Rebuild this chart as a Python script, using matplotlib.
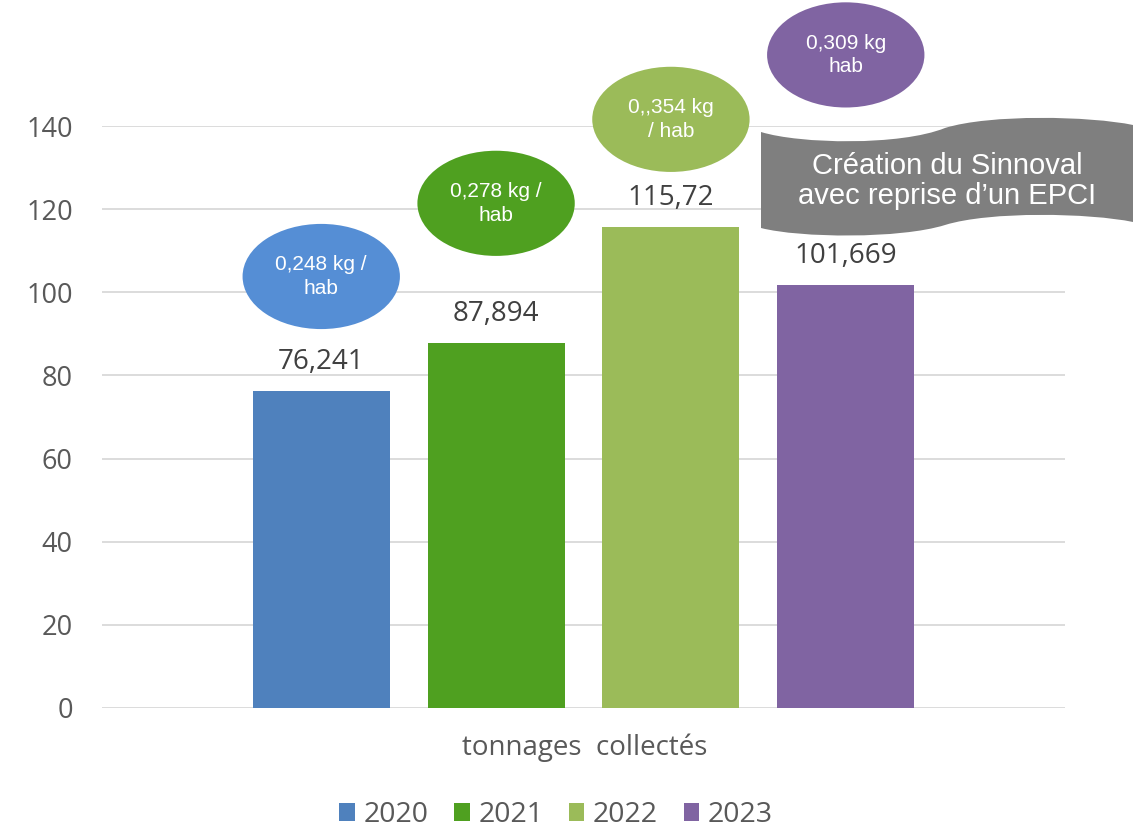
import matplotlib
matplotlib.use("Agg")
import matplotlib.pyplot as plt
from matplotlib.patches import Ellipse, Patch, PathPatch
from matplotlib.path import Path

years = ["2020", "2021", "2022", "2023"]
tonnages = [76.241, 87.894, 115.72, 101.669]
value_labels = ["76,241", "87,894", "115,72", "101,669"]
bar_colors = ["#4f81bd", "#4fa020", "#9bbb59", "#8064a2"]
bubble_texts = ["0,248 kg /\nhab", "0,278 kg /\nhab", "0,,354 kg\n/ hab", "0,309 kg\nhab"]
bubble_colors = ["#558ed5", "#4fa020", "#9bbb59", "#8064a2"]
bubble_y = [103.8, 121.4, 141.6, 157.1]
y_ticks = [0, 20, 40, 60, 80, 100, 120, 140]

W, H = 1133, 832
fig = plt.figure(figsize=(W / 100, H / 100), dpi=100)
ax = fig.add_axes([102 / W, (H - 708) / H, (1065 - 102) / W, (708 - 126) / H])

x = list(range(len(years)))
ax.bar(x, tonnages, width=0.783, color=bar_colors, zorder=2)
ax.set_xlim(-1.254, 4.254)
ax.set_ylim(0, 140)
ax.set_yticks(y_ticks)
ax.set_xticks([])
ax.yaxis.grid(True, color="#d9d9d9", linewidth=1.3, zorder=0)
ax.set_axisbelow(True)
for s in ax.spines.values():
    s.set_visible(False)
ax.tick_params(axis="y", length=0, pad=21, labelsize=19.5, labelcolor="#595959")
for lab in ax.get_yticklabels():
    lab.set_fontfamily("Open Sans")

# value labels above bars
for xi, v, t in zip(x, tonnages, value_labels):
    ax.text(xi, v + 7, t, ha="center", va="center", fontsize=20,
            family="Open Sans", color="#404040", zorder=3)

# per-capita bubbles
for xi, yc, txt, c in zip(x, bubble_y, bubble_texts, bubble_colors):
    ax.add_patch(Ellipse((xi, yc), 0.9, 25.3, facecolor=c, edgecolor="none",
                         clip_on=False, zorder=4))
    ax.text(xi, yc, txt, ha="center", va="center", fontsize=15, color="white",
            family="Liberation Sans", linespacing=1.3, zorder=5, clip_on=False)

# grey wave banner (figure pixel coordinates)
def px(a, b):
    return (a / W, 1 - b / H)

verts = [px(761, 132),
         px(800, 144), px(900, 146), px(945, 128),
         px(990, 114), px(1090, 116), px(1133, 125),
         px(1133, 222),
         px(1090, 213), px(990, 211), px(945, 225),
         px(900, 239), px(800, 238), px(761, 228),
         px(761, 132)]
codes = [Path.MOVETO,
         Path.CURVE4, Path.CURVE4, Path.CURVE4,
         Path.CURVE4, Path.CURVE4, Path.CURVE4,
         Path.LINETO,
         Path.CURVE4, Path.CURVE4, Path.CURVE4,
         Path.CURVE4, Path.CURVE4, Path.CURVE4,
         Path.CLOSEPOLY]
fig.patches.append(PathPatch(Path(verts, codes), transform=fig.transFigure,
                             facecolor="#7f7f7f", edgecolor="none", zorder=6))
fig.text(947 / W, 1 - 181 / H, "Création du Sinnoval\navec reprise d\u2019un EPCI",
         ha="center", va="center", fontsize=21, color="white",
         family="Liberation Sans", linespacing=1.12, zorder=7)

# category label
fig.text(585 / W, 1 - 748 / H, "tonnages  collectés", ha="center", va="center",
         fontsize=20, family="Open Sans", color="#595959")

handles = [Patch(facecolor=c, edgecolor="none") for c in bar_colors]
leg = fig.legend(handles, years, loc="center", bbox_to_anchor=(556 / W, 1 - 815 / H),
                 ncol=4, frameon=False, handlelength=0.55, handleheight=0.55,
                 handletextpad=0.3, columnspacing=0.9,
                 prop={"family": "Open Sans", "size": 20.5})
for t in leg.get_texts():
    t.set_color("#595959")

fig.savefig("out.png", dpi=100)
